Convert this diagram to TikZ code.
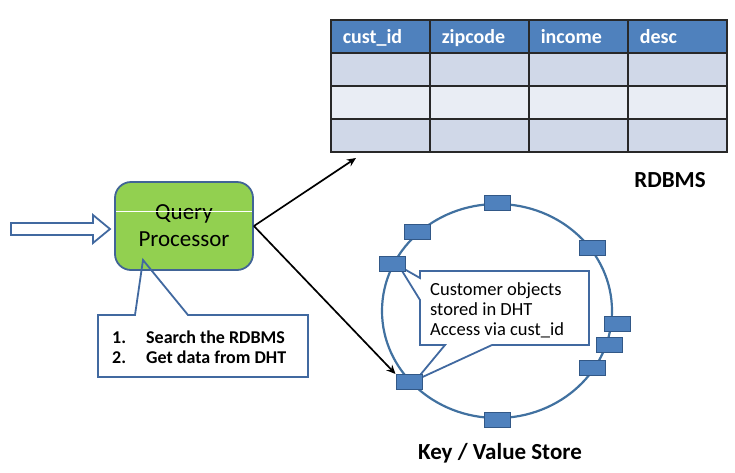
\documentclass[tikz,border=0pt]{standalone}
\usepackage{fontspec}
\setmainfont{Carlito}
\usetikzlibrary{arrows.meta}
\definecolor{qpgreen}{RGB}{146,208,80}
\definecolor{qpline}{RGB}{65,100,150}
\definecolor{hdrblue}{RGB}{79,129,189}
\definecolor{rowdark}{RGB}{208,216,232}
\definecolor{rowlight}{RGB}{233,237,244}
\definecolor{tabline}{RGB}{40,40,40}
\definecolor{ringblue}{RGB}{65,113,160}
\definecolor{dhtline}{RGB}{50,88,135}
\definecolor{callblue}{RGB}{65,105,160}
\begin{document}
\begin{tikzpicture}[x=1pt,y=-1pt]
  \tikzstyle{cell} = [rectangle, draw=tabline, line width=1.6pt, minimum width=99pt, minimum height=33pt, anchor=north west, inner sep=0pt, inner xsep=12pt, text width=75pt, align=left]
  \tikzstyle{head} = [cell, fill=hdrblue, text=white, text height=19pt, text depth=5pt, font=\fontsize{20}{22}\selectfont\bfseries]
  \tikzstyle{qp} = [rectangle, rounded corners=16pt, draw=qpline, line width=1.8pt, fill=qpgreen, minimum width=138pt, minimum height=88pt, align=center, font=\fontsize{23}{27}\selectfont]
  \tikzstyle{callout} = [draw=callblue, line width=1.8pt, line join=miter]
  \tikzstyle{note} = [inner sep=0pt, align=left, anchor=west]
  \tikzstyle{dht} = [rectangle, fill=hdrblue, draw=dhtline, line width=1pt, minimum width=26pt, minimum height=15pt, inner sep=0pt]
  \tikzstyle{arr} = [-{Stealth[length=9pt,width=8pt]}, line width=1.7pt]
  \tikzstyle{title} = [font=\fontsize{23}{26}\selectfont\bfseries]
  \useasboundingbox (0,0) rectangle (735,472);

  % table
  \foreach \name [count=\i from 0] in {cust\_id, zipcode, income, desc}
    \node [head] (h\i) at (330+99*\i,19) {\name};
  \foreach \r/\shade in {1/rowdark, 2/rowlight, 3/rowdark}
    \foreach \i in {0,...,3}
      \node [cell, fill=\shade] (c\r\i) at (330+99*\i,19+33*\r) {};
  \node [title] (rdbms) at (670,180) {RDBMS};

  % query processor
  \draw [callout, fill=white] (11,223) -- (93,223) -- (93,215) -- (110,229) -- (93,243) -- (93,235) -- (11,235) -- cycle;
  \node [qp] (query) at (184,226) {Query\\Processor};
  \draw [white, line width=1pt] (116,211) -- (252,211);
  \draw [callout] (98,315) -- (135,315) -- (143,260) -- (188,315) -- (308,315) -- (308,377) -- (98,377) -- cycle;
  \node [note, font=\fontsize{18}{20}\selectfont\bfseries] (plan) at (112,347) {\makebox[34pt][l]{1.}Search the RDBMS\\\makebox[34pt][l]{2.}Get data from DHT};

  % key / value store
  \draw [ringblue, line width=2.2pt] (497,311) ellipse [x radius=115, y radius=107];
  \draw [callout, fill=white] (420,271) -- (589,271) -- (589,345) -- (492,345) -- (416,380) -- (445,345) -- (420,345) -- (420,300) -- (399,266) -- (420,278) -- cycle;
  \node [note, font=\fontsize{18.5}{20}\selectfont] (objects) at (430,310) {Customer objects\\stored in DHT\\Access via cust\_id};
  \foreach \px/\py [count=\k] in {497/203, 417/232, 392/264, 592/248, 617/324, 609/345, 592/368, 409/382, 497/420}
    \node [dht] (dht\k) at (\px,\py) {};
  \node [title] (store) at (500,453) {Key / Value Store};

  \coordinate (tip) at (356,158);
  \draw [arr] (query.east) -- (tip);
  \draw [arr] (query.east) -- (dht8.north west);
\end{tikzpicture}
\end{document}
